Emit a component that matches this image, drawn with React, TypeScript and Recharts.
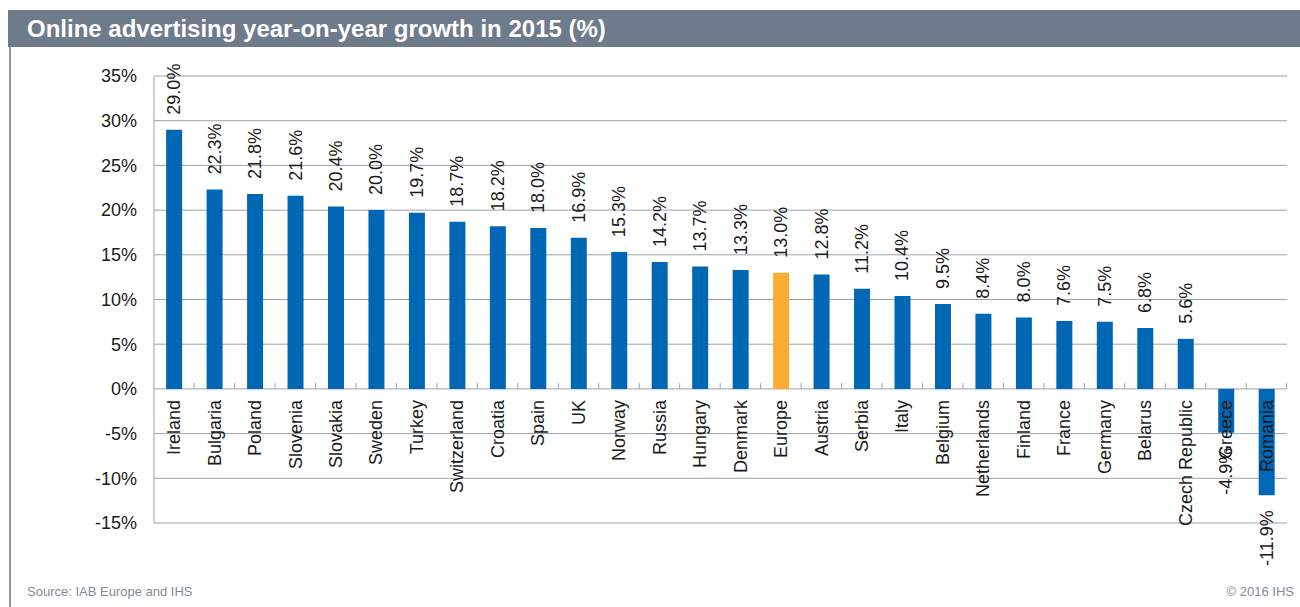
import React from 'react';
import { BarChart, Bar, XAxis, YAxis, CartesianGrid, Cell, LabelList } from 'recharts';

const countries = [
  'Ireland', 'Bulgaria', 'Poland', 'Slovenia', 'Slovakia', 'Sweden', 'Turkey', 'Switzerland',
  'Croatia', 'Spain', 'UK', 'Norway', 'Russia', 'Hungary', 'Denmark', 'Europe', 'Austria',
  'Serbia', 'Italy', 'Belgium', 'Netherlands', 'Finland', 'France', 'Germany', 'Belarus',
  'Czech Republic', 'Greece', 'Romania',
];
const growth = [
  29.0, 22.3, 21.8, 21.6, 20.4, 20.0, 19.7, 18.7, 18.2, 18.0, 16.9, 15.3, 14.2, 13.7, 13.3,
  13.0, 12.8, 11.2, 10.4, 9.5, 8.4, 8.0, 7.6, 7.5, 6.8, 5.6, -4.9, -11.9,
];
const highlightCategory = 'Europe';
const yTicks = [-15, -10, -5, 0, 5, 10, 15, 20, 25, 30, 35];

const TITLE = 'Online advertising year-on-year growth in 2015 (%)';
const SOURCE = 'Source: IAB Europe and IHS';
const COPYRIGHT = '© 2016 IHS';

const data = countries.map((name, i) => ({ name, value: growth[i] }));

const FONT = '"Liberation Sans", Arial, Helvetica, sans-serif';
const BLUE = '#0067b4';
const ORANGE = '#f9ab33';
const GRID = '#9aa4ae';
const TEXT = '#1a1a1a';
const GAP = 0.3;

const BarLabels = (props: any) => {
  const vb = props.viewBox ?? {};
  const x = Number(props.x ?? vb.x);
  const y = Number(props.y ?? vb.y);
  const w = Number(props.width ?? vb.width);
  const h = Number(props.height ?? vb.height);
  const value = Number(props.value);
  const idx = Number(props.index);
  const top = Math.min(y, y + h);
  const bottom = Math.max(y, y + h);
  const zeroY = value >= 0 ? bottom : top;
  const endY = value >= 0 ? top : bottom;
  const cx = x + w / 2;
  const band = w / (1 - 2 * GAP);
  const tickX = cx + band / 2;
  const labelY = value >= 0 ? endY - 15 : endY + 15;
  const catY = zeroY + 11;
  return (
    <g>
      <line x1={tickX} x2={tickX} y1={zeroY} y2={zeroY - 6} stroke={GRID} strokeWidth={1} />
      <text
        x={cx}
        y={labelY}
        transform={`rotate(-90 ${cx} ${labelY})`}
        textAnchor={value >= 0 ? 'start' : 'end'}
        dominantBaseline="central"
        fontSize={18}
        fontFamily={FONT}
        fill={TEXT}
      >
        {`${value.toFixed(1)}%`}
      </text>
      <text
        x={cx}
        y={catY}
        transform={`rotate(-90 ${cx} ${catY})`}
        textAnchor="end"
        dominantBaseline="central"
        fontSize={18}
        fontFamily={FONT}
        fill={TEXT}
      >
        {countries[idx]}
      </text>
    </g>
  );
};

export default function App() {
  return (
    <div style={{ position: 'relative', width: 1300, height: 607, overflow: 'hidden', fontFamily: FONT }}>
      <style>{`body{margin:0;}`}</style>
      <div
        style={{
          position: 'absolute',
          left: 8,
          top: 10,
          width: 1292,
          height: 37,
          background: '#6e7b8b',
          color: '#ffffff',
          fontWeight: 'bold',
          fontSize: 24,
          lineHeight: '37px',
          paddingLeft: 19,
          boxSizing: 'border-box',
          whiteSpace: 'nowrap',
        }}
      >
        {TITLE}
      </div>
      <div style={{ position: 'absolute', left: 9, top: 47, width: 2, height: 560, background: '#8e9aa6' }} />
      <div style={{ position: 'absolute', left: 0, top: 0 }}>
        <BarChart
          width={1300}
          height={607}
          data={data}
          margin={{ top: 76, right: 13, bottom: 84, left: 0 }}
          barCategoryGap={`${GAP * 100}%`}
        >
          <CartesianGrid vertical={false} stroke={GRID} strokeWidth={1} />
          <XAxis dataKey="name" hide />
          <YAxis
            width={154}
            domain={[-15, 35]}
            ticks={yTicks}
            allowDataOverflow
            tickFormatter={(v: number) => `${v}%`}
            tickLine={false}
            tickSize={0}
            tickMargin={17}
            axisLine={{ stroke: GRID, strokeWidth: 1 }}
            tick={{ fill: TEXT, fontSize: 18, fontFamily: FONT }}
          />
          <Bar dataKey="value" isAnimationActive={false}>
            {data.map((d) => (
              <Cell key={d.name} fill={d.name === highlightCategory ? ORANGE : BLUE} />
            ))}
            <LabelList dataKey="value" content={BarLabels} />
          </Bar>
        </BarChart>
      </div>
      <div style={{ position: 'absolute', left: 27, top: 584, fontSize: 13, color: '#7f8b97', whiteSpace: 'nowrap' }}>
        {SOURCE}
      </div>
      <div style={{ position: 'absolute', right: 6, top: 584, fontSize: 13, color: '#7f8b97', whiteSpace: 'nowrap' }}>
        {COPYRIGHT}
      </div>
    </div>
  );
}
